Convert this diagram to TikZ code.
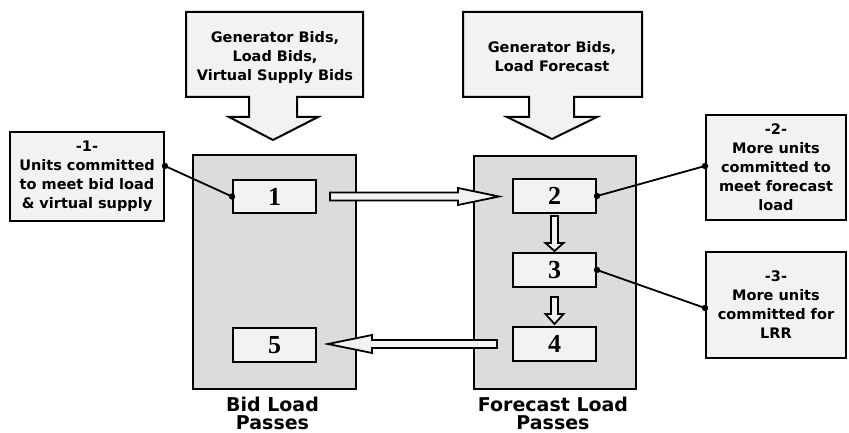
\documentclass[tikz,border=0pt]{standalone}
\usepackage{fontspec}
\setmainfont{DejaVu Sans}
\newfontfamily\numfont{Liberation Serif}
\usetikzlibrary{calc}
\definecolor{paper}{HTML}{F2F2F2}
\definecolor{panelgray}{HTML}{DCDCDC}
\tikzset{
  outline/.style={draw=black, line width=2pt},
  panelbox/.style={outline, fill=panelgray, minimum width=163pt, minimum height=234pt, inner sep=0pt},
  stepbox/.style={outline, fill=paper, minimum width=83pt, minimum height=34pt, inner sep=0pt,
    font=\numfont\bfseries\fontsize{26}{26}\selectfont},
  notebox/.style={outline, fill=paper, inner sep=0pt, align=center,
    font=\bfseries\fontsize{14.5}{19}\selectfont},
  calloutshape/.style={outline, fill=paper, line join=miter},
  callouttext/.style={align=center, inner sep=0pt, font=\bfseries\fontsize{14.5}{19}\selectfont},
  caption/.style={align=center, inner sep=0pt, font=\bfseries\fontsize{19}{17.5}\selectfont},
  leader/.style={draw=black, line width=1.8pt},
  pics/blockarrow/.style n args={4}{code={%
    \draw[outline, fill=paper, line width=1.8pt, line join=miter]
      (0,-#2) -- (#1-#3,-#2) -- (#1-#3,-#4) -- (#1,0) -- (#1-#3,#4) -- (#1-#3,#2) -- (0,#2) -- cycle;}},
}
\begin{document}
\begin{tikzpicture}[x=1pt, y=-1pt]
  \useasboundingbox (0,0) rectangle (849,433);

  % input callouts
  \draw[calloutshape] (186,12) -- (363,12) -- (363,97) -- (297,97) -- (297,117) -- (318,117)
    -- (273,140) -- (229,117) -- (249,117) -- (249,97) -- (186,97) -- cycle;
  \node[callouttext] (bidsin) at (275,58) {Generator Bids,\\Load Bids,\\Virtual Supply Bids};

  \draw[calloutshape] (463,12) -- (642,12) -- (642,97) -- (574,97) -- (574,117) -- (597,117)
    -- (552,139) -- (507,117) -- (529,117) -- (529,97) -- (463,97) -- cycle;
  \node[callouttext] (fcin) at (552,57) {Generator Bids,\\Load Forecast};

  % pass panels
  \node[panelbox] (bidpanel) at (274.5,272) {};
  \node[panelbox, minimum width=162pt, minimum height=233pt] (fcpanel) at (555,272.5) {};

  % steps
  \node[stepbox, minimum height=33pt] (s1) at (274.5,196.5) {1};
  \node[stepbox] (s5) at (274.5,345) {5};
  \node[stepbox] (s2) at (554.5,196) {2};
  \node[stepbox] (s3) at (554.5,270) {3};
  \node[stepbox] (s4) at (554.5,344) {4};

  % flow between steps
  \pic at ([xshift=13pt]s1.east) {blockarrow={169}{4}{41}{8.5}};
  \pic[rotate=180] at ([xshift=-15pt]s4.west) {blockarrow={169}{4}{44}{9}};
  \pic[rotate=-90] at ([yshift=-2pt]s2.south) {blockarrow={35}{3.5}{8}{9}};
  \pic[rotate=-90] at ([yshift=-9pt]s3.south) {blockarrow={27}{3.5}{10}{9}};

  % captions
  \node[caption, anchor=north] (bidcap) at (272.5,397) {Bid Load\\Passes};
  \node[caption, anchor=north] (fccap) at (553,397) {Forecast Load\\Passes};

  % notes
  \node[notebox, minimum width=154pt, minimum height=89pt] (n1) at (87,176.5)
    {-1-\\Units committed\\to meet bid load\\\& virtual supply};
  \node[notebox, minimum width=140pt, minimum height=105pt] (n2) at (776,167.5)
    {-2-\\More units\\committed to\\meet forecast\\load};
  \node[notebox, minimum width=140pt, minimum height=106pt] (n3) at (776,305)
    {-3-\\More units\\committed for\\LRR};

  % leaders from notes to steps
  \coordinate (n1p) at ([yshift=10.5pt]n1.east);
  \coordinate (n2p) at ([yshift=1.5pt]n2.west);
  \coordinate (n3p) at ([yshift=-3pt]n3.west);
  \draw[leader] (n1p) -- (s1.west);
  \draw[leader] (n2p) -- (s2.east);
  \draw[leader] (n3p) -- (s3.east);
  \foreach \p in {n1p, s1.west, n2p, s2.east, n3p, s3.east}
    \fill (\p) circle (3.2pt);
\end{tikzpicture}
\end{document}
